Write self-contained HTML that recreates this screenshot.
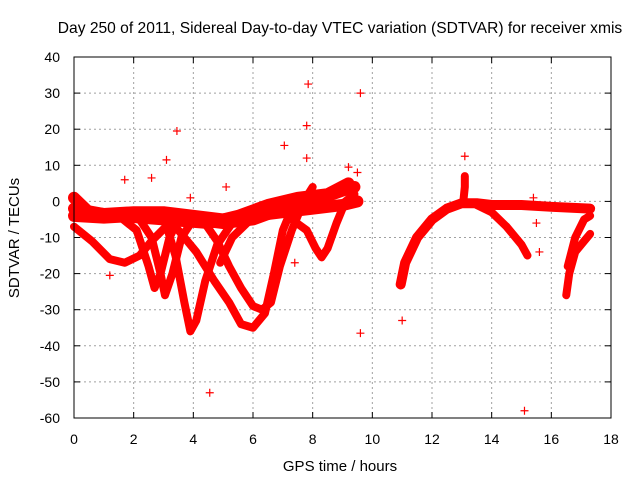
<!DOCTYPE html>
<html><head><meta charset="utf-8"><style>
body{margin:0;background:#fff}
svg text{font-family:"Liberation Sans",sans-serif;font-size:14px;fill:#000}
</style></head><body>
<svg id="chart" width="640" height="480" xmlns="http://www.w3.org/2000/svg">
<text x="340" y="33" text-anchor="middle" style="font-size:15.6px">Day 250 of 2011, Sidereal Day-to-day VTEC variation (SDTVAR) for receiver xmis</text>
<text x="340" y="471" text-anchor="middle" style="font-size:15px">GPS time / hours</text>
<text transform="translate(19,238) rotate(-90)" text-anchor="middle" style="font-size:15px">SDTVAR / TECUs</text>
<g id="grid"></g>
<g id="ticks"></g>
<g id="marks"></g>
<rect x="74" y="57" width="537" height="361" fill="none" stroke="#000" stroke-width="1"/>
</svg>
<script>
const xTicks=[0,2,4,6,8,10,12,14,16,18];
const yTicks=[40,30,20,10,0,-10,-20,-30,-40,-50,-60];
const track1=[[0,-7],[0.6,-11],[1.2,-16],[1.7,-17],[2.2,-15],[2.6,-11],[3.2,-6],[4,-4]];
const track2=[[1.5,-4],[2.1,-8],[2.5,-18],[2.7,-24],[2.9,-20],[3.2,-10],[3.5,-5]];
const track3=[[2.2,-5],[2.6,-10],[2.9,-20],[3.05,-26],[3.3,-20],[3.6,-10],[4,-5]];
const track4=[[3.0,-4],[3.4,-15],[3.7,-28],[3.9,-36],[4.1,-33],[4.4,-22],[4.8,-12],[5.3,-6]];
const track5=[[3.3,-6],[4.1,-14],[4.7,-22],[5.2,-28],[5.6,-34],[6.0,-35],[6.4,-31],[6.7,-20],[7.0,-8],[7.3,-2]];
const track6=[[4.3,-5],[4.8,-11],[5.2,-18],[5.6,-24],[6.0,-29],[6.3,-30],[6.6,-28],[6.9,-18],[7.3,-8],[7.7,0],[8.0,4]];
const track7=[[4.9,-17],[5.3,-10],[5.8,-6],[6.3,-3],[7,-1]];
const track8=[[7.3,-5],[7.8,-8],[8.1,-13],[8.3,-15.5],[8.5,-13],[8.8,-6],[9.1,0],[9.4,2]];
const band1=[[0,-2],[1,-3.5],[2,-3],[3,-3],[4,-4],[5,-5],[6,-4],[7,-3],[8,-2],[9,-1],[9.5,0]];
const band2=[[0,1],[0.5,-3],[1.5,-4],[3,-5],[4.5,-6],[5.5,-4],[6.5,-1],[7.5,1],[8.5,2],[9.2,5]];
const band3=[[0,-4],[1,-4.5],[2,-4],[3,-4],[4,-5],[5,-6],[6,-5],[7,-2],[8,0],[9,3],[9.4,4]];
const track9=[[10.95,-23],[11.1,-17],[11.5,-10],[12,-5],[12.5,-2],[13,-0.5],[13.5,-0.5],[14,-1],[15,-1],[16,-1.5],[17.3,-2]];
const track10=[[13.5,-1],[14,-3],[14.5,-7],[15,-12],[15.2,-15]];
const track11=[[16.5,-26],[16.6,-20],[16.8,-14],[17.1,-11],[17.3,-9]];
const track12=[[16.55,-18],[16.8,-10],[17.1,-5],[17.3,-4]];
const spike=[[13.05,0],[13.1,4],[13.1,7]];
const outliers=[[1.2,-20.5],[3.1,11.5],[3.45,19.5],[4.55,-53],[7.05,15.5],[7.85,32.5],[7.8,21],[9.6,30],[9.6,-36.5],[11,-33],[13.1,12.5],[15.1,-58],[15.6,-14],[15.5,-6],[7.8,12],[9.5,8],[7.4,-17],[1.7,6],[2.6,6.5],[3.9,1],[5.1,4],[9.2,9.5],[15.4,1]];
const xs=h=>74+h*(537/18);
const ys=v=>57+(40-v)*3.61;
const NS='http://www.w3.org/2000/svg';
const grid=document.getElementById('grid'),ticks=document.getElementById('ticks'),marks=document.getElementById('marks');
function mk(t,a,p){const e=document.createElementNS(NS,t);for(const k in a)e.setAttribute(k,a[k]);p.appendChild(e);return e;}
xTicks.forEach(t=>{
 if(t>0&&t<18){const g=mk('line',{x1:xs(t),x2:xs(t),y1:57,y2:418,stroke:'#a0a0a0','stroke-dasharray':'2,3'},grid);
 
 }
 const l=mk('text',{x:xs(t),y:444,'text-anchor':'middle'},ticks);l.textContent=t;
 
 
 mk('line',{x1:xs(t),x2:xs(t),y1:418,y2:412,stroke:'#000'},ticks);
 mk('line',{x1:xs(t),x2:xs(t),y1:57,y2:63,stroke:'#000'},ticks);
});
yTicks.forEach(t=>{
 if(t>-60&&t<40){const g=mk('line',{x1:74,x2:611,y1:ys(t),y2:ys(t),stroke:'#a0a0a0','stroke-dasharray':'2,3'},grid);
 
 }
 const l=mk('text',{x:60,y:ys(t)+5,'text-anchor':'end'},ticks);l.textContent=t;
 
 
 mk('line',{x1:74,x2:80,y1:ys(t),y2:ys(t),stroke:'#000'},ticks);
 mk('line',{x1:611,x2:605,y1:ys(t),y2:ys(t),stroke:'#000'},ticks);
});
function track(d,w){
 const p=mk('polyline',{points:d.map(q=>xs(q[0])+','+ys(q[1])).join(' '),fill:'none',stroke:'#ff0000','stroke-width':w,'stroke-linejoin':'round','stroke-linecap':'round'},marks);
 
 
}
[band1,band2,band3].forEach(d=>track(d,12));
[track1,track2,track3,track4,track5,track6,track7,track8,track10,track11,track12,spike].forEach(d=>track(d,8));
track(track9,10);
outliers.forEach(q=>{
 const x=xs(q[0]),y=ys(q[1]);
 const p=mk('path',{d:`M${x-4},${y}H${x+4}M${x},${y-4}V${y+4}`,stroke:'#ff0000','stroke-width':1.2},marks);
 
 
});
</script>
</body></html>
